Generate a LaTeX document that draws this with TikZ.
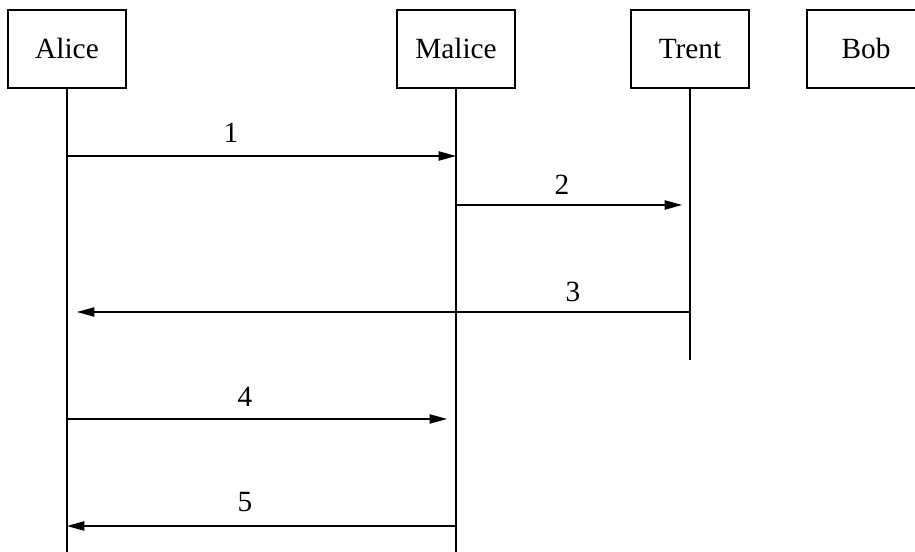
\documentclass[tikz,border=0pt]{standalone}
\usepackage{fontspec}
\setmainfont{Liberation Serif}
\usetikzlibrary{arrows.meta}
\begin{document}
\begin{tikzpicture}
    [x=0.75pt,y=-0.75pt,line width=0.8pt,
     font=\fontsize{22}{26}\selectfont,
     party/.style={draw,line width=1pt,minimum width=88.5pt,minimum height=58.5pt,
                   inner sep=0pt,text height=15pt,text depth=0pt},
     msg/.style={-{Triangle[length=13pt,width=7pt]}}]

    \clip (0,0) rectangle (915,552);

    % participants:
    \node (alice) at (67, 49) [party] {Alice};
    \node (malice) at (456, 49) [party] {Malice};
    \node (trent) at (690, 49) [party] {Trent};
    \node (bob) at (866, 49) [party] {Bob};

    % lifeline ends:
    \coordinate (aend) at (67, 552);
    \coordinate (mend) at (456, 552);
    \coordinate (tend) at (690, 360);

    \draw (alice) to (aend);
    \draw (malice) to (mend);
    \draw (trent) to (tend);

    % message points:
    \coordinate (a1) at (67, 156);
    \coordinate (m1) at (456, 156);
    \coordinate (m2) at (456, 205);
    \coordinate (t2) at (682, 205);
    \coordinate (t3) at (690, 312);
    \coordinate (a3) at (77, 312);
    \coordinate (a4) at (67, 419);
    \coordinate (m4) at (447, 419);
    \coordinate (m5) at (456, 526);
    \coordinate (a5) at (67, 526);

    % labels:
    \node (l1) at (231, 133) {1};
    \node (l2) at (562, 185) {2};
    \node (l3) at (573, 292) {3};
    \node (l4) at (245, 397) {4};
    \node (l5) at (245, 502) {5};

    % messages:
    \draw [msg] (a1) to (m1);
    \draw [msg] (m2) to (t2);
    \draw [msg] (t3) to (a3);
    \draw [msg] (a4) to (m4);
    \draw [msg] (m5) to (a5);

  \end{tikzpicture}
\end{document}
